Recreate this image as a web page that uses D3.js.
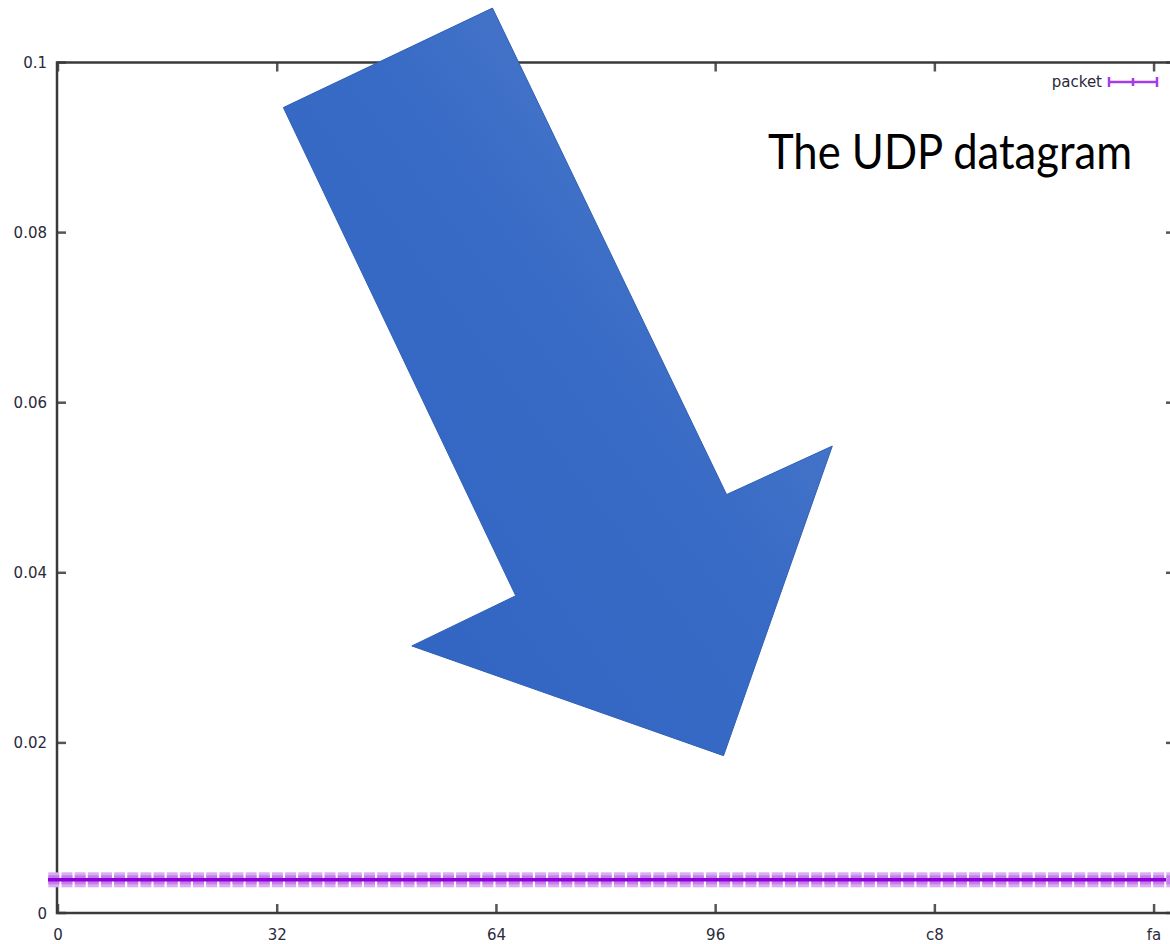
<!DOCTYPE html>
<meta charset="utf-8">
<style>

body {
  margin: 0;
  background: #fff;
}

.tick-label {
  font-family: "DejaVu Sans", sans-serif;
  font-size: 15px;
  fill: #2a2a3a;
}

.frame {
  fill: none;
  stroke: #3a3a3a;
  stroke-width: 2.5;
}

.tick {
  stroke: #555;
  stroke-width: 2.5;
}

</style>
<svg width="1170" height="944">
  <defs>
    <linearGradient id="arrowFill" x1="0%" y1="100%" x2="100%" y2="0%">
      <stop offset="0%" stop-color="#2e63c0"></stop>
      <stop offset="55%" stop-color="#386bc6"></stop>
      <stop offset="100%" stop-color="#5a83cc"></stop>
    </linearGradient>
  </defs>
</svg>
<script src="https://d3js.org/d3.v7.min.js"></script>
<script>

// byte value (hex on the axis) -> relative frequency
var xTicks = [0, 50, 100, 150, 200, 250];
var xTickLabels = ["0", "32", "64", "96", "c8", "fa"];
var yTicks = [0, 0.02, 0.04, 0.06, 0.08, 0.1];
var yTickLabels = ["0", "0.02", "0.04", "0.06", "0.08", "0.1"];

var packetBytes = [
  0, 3, 6, 9, 12, 15, 18, 21, 24, 27, 30, 33, 36, 39, 42, 45, 48, 51, 54, 57,
  60, 63, 66, 69, 72, 75, 78, 81, 84, 87, 90, 93, 96, 99, 102, 105, 108, 111, 114, 117,
  120, 123, 126, 129, 132, 135, 138, 141, 144, 147, 150, 153, 156, 159, 162, 165, 168, 171, 174, 177,
  180, 183, 186, 189, 192, 195, 198, 201, 204, 207, 210, 213, 216, 219, 222, 225, 228, 231, 234, 237,
  240, 243, 246, 249, 252, 255
];
var packetFreq = [
  0.0039, 0.0039, 0.0039, 0.0039, 0.0039, 0.0039, 0.0039, 0.0039, 0.0039, 0.0039,
  0.0039, 0.0039, 0.0039, 0.0039, 0.0039, 0.0039, 0.0039, 0.0039, 0.0039, 0.0039,
  0.0039, 0.0039, 0.0039, 0.0039, 0.0039, 0.0039, 0.0039, 0.0039, 0.0039, 0.0039,
  0.0039, 0.0039, 0.0039, 0.0039, 0.0039, 0.0039, 0.0039, 0.0039, 0.0039, 0.0039,
  0.0039, 0.0039, 0.0039, 0.0039, 0.0039, 0.0039, 0.0039, 0.0039, 0.0039, 0.0039,
  0.0039, 0.0039, 0.0039, 0.0039, 0.0039, 0.0039, 0.0039, 0.0039, 0.0039, 0.0039,
  0.0039, 0.0039, 0.0039, 0.0039, 0.0039, 0.0039, 0.0039, 0.0039, 0.0039, 0.0039,
  0.0039, 0.0039, 0.0039, 0.0039, 0.0039, 0.0039, 0.0039, 0.0039, 0.0039, 0.0039,
  0.0039, 0.0039, 0.0039, 0.0039, 0.0039, 0.0039
];
var packetErr = 0.00088;

// the call-out arrow, in data units
var arrowPts = [
  [51.4, 0.0947], [99.1, 0.1064], [152.5, 0.0492], [176.6, 0.0549],
  [151.8, 0.0185], [80.7, 0.0314], [104.4, 0.0373]
];

var svg = d3.select("svg"),
    plotLeft = 57,
    plotTop = 62.5,
    plotBottom = 913,
    plotRight = 1176;

var x = d3.scaleLinear()
    .domain([0, 255])
    .range([58, plotRight]);

var y = d3.scaleLinear()
    .domain([0, 0.1])
    .range([plotBottom, plotTop]);

// ticks (inward, mirrored)
var ticks = svg.append("g");
ticks.selectAll(".xb")
    .data(xTicks)
  .enter().append("line")
    .attr("class", "tick")
    .attr("x1", d => x(d)).attr("x2", d => x(d))
    .attr("y1", plotBottom).attr("y2", plotBottom - 9);
ticks.selectAll(".xt")
    .data(xTicks)
  .enter().append("line")
    .attr("class", "tick")
    .attr("x1", d => x(d)).attr("x2", d => x(d))
    .attr("y1", plotTop).attr("y2", plotTop + 9);
ticks.selectAll(".yl")
    .data(yTicks)
  .enter().append("line")
    .attr("class", "tick")
    .attr("x1", plotLeft).attr("x2", plotLeft + 9)
    .attr("y1", d => y(d)).attr("y2", d => y(d));
ticks.selectAll(".yr")
    .data(yTicks)
  .enter().append("line")
    .attr("class", "tick")
    .attr("x1", plotRight).attr("x2", plotRight - 10)
    .attr("y1", d => y(d)).attr("y2", d => y(d));

svg.append("rect")
    .attr("class", "frame")
    .attr("x", plotLeft)
    .attr("y", plotTop)
    .attr("width", plotRight - plotLeft)
    .attr("height", plotBottom - plotTop);

svg.append("g").selectAll("text")
    .data(xTicks)
  .enter().append("text")
    .attr("class", "tick-label")
    .attr("x", d => x(d))
    .attr("y", 940)
    .attr("text-anchor", "middle")
    .text((d, i) => xTickLabels[i]);

svg.append("g").selectAll("text")
    .data(yTicks)
  .enter().append("text")
    .attr("class", "tick-label")
    .attr("x", 47)
    .attr("y", d => y(d) + 5.5)
    .attr("text-anchor", "end")
    .text((d, i) => yTickLabels[i]);

// error bars of the packet series
var series = svg.append("g");
series.selectAll(".outer")
    .data(packetBytes)
  .enter().append("rect")
    .attr("class", "outer")
    .attr("x", d => x(d - 2.2))
    .attr("y", (d, i) => y(packetFreq[i] + packetErr))
    .attr("width", x(2.5) - x(0))
    .attr("height", (d, i) => y(packetFreq[i] - packetErr) - y(packetFreq[i] + packetErr))
    .attr("fill", "#d9acf4");
series.selectAll(".inner")
    .data(packetBytes)
  .enter().append("rect")
    .attr("class", "inner")
    .attr("x", d => x(d - 2.2))
    .attr("y", (d, i) => y(packetFreq[i] + packetErr * 0.6))
    .attr("width", x(2.5) - x(0))
    .attr("height", (d, i) => y(packetFreq[i] - packetErr * 0.6) - y(packetFreq[i] + packetErr * 0.6))
    .attr("fill", "#c47cee");
series.append("path")
    .datum(packetBytes)
    .attr("fill", "none")
    .attr("stroke", "#8e00d4")
    .attr("stroke-width", 3.5)
    .attr("d", d3.line()
        .x(d => x(d))
        .y((d, i) => y(packetFreq[i])))
    .attr("transform", "translate(-10,0)");

// legend
var legend = svg.append("g");
legend.append("text")
    .attr("class", "tick-label")
    .attr("x", 1102)
    .attr("y", 87)
    .attr("text-anchor", "end")
    .text("packet");
legend.append("path")
    .attr("fill", "none")
    .attr("stroke", "#a63ce6")
    .attr("stroke-width", 2.5)
    .attr("d", "M1109,82H1157M1109,77V87M1157,77V87M1133,78V86");

// annotation
svg.append("path")
    .datum(arrowPts)
    .attr("fill", "url(#arrowFill)")
    .attr("stroke", "#3060b4")
    .attr("stroke-width", 1)
    .attr("d", d3.line().x(d => x(d[0])).y(d => y(d[1])).curve(d3.curveLinearClosed));

svg.append("text")
    .attr("x", 768)
    .attr("y", 169)
    .attr("font-family", "Lato, 'Open Sans', sans-serif")
    .attr("font-size", 49)
    .attr("fill", "#000")
    .attr("textLength", 364)
    .attr("lengthAdjust", "spacingAndGlyphs")
    .text("The UDP datagram");

</script>
